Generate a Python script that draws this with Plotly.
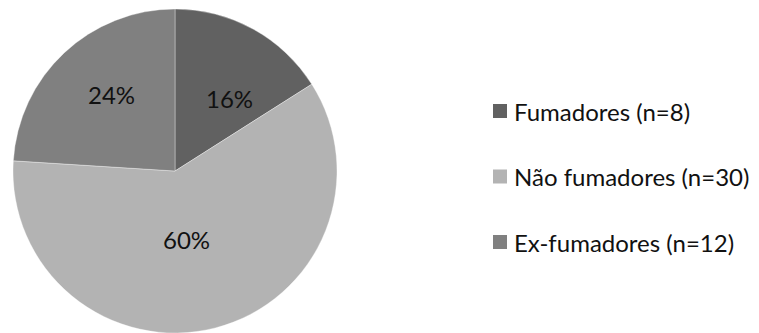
import math
import plotly.graph_objects as go

# Smoking status of respondents
categories = ["Fumadores (n=8)", "Não fumadores (n=30)", "Ex-fumadores (n=12)"]
counts = [8, 30, 12]
colors = ["#616161", "#b3b3b3", "#808080"]

FONT = "Lato, Calibri, Carlito, sans-serif"
W, H = 759, 333

# pie geometry in pixels (pie sits on the bottom edge)
R = 162
CX, CY = 175, H - R
# per-slice label placement: (angle shift in degrees, radius fraction)
label_place = [(8.0, 0.56), (5.0, 0.43), (3.5, 0.61)]

fig = go.Figure(
    go.Pie(
        labels=categories,
        values=counts,
        sort=False,
        direction="clockwise",
        rotation=0,
        marker=dict(colors=colors, line=dict(color="rgba(255,255,255,0.35)", width=1)),
        textinfo="none",
        showlegend=False,
        hoverinfo="label+value+percent",
        domain=dict(x=[(CX - R) / W, (CX + R) / W], y=[0, 2 * R / H]),
    )
)

# percentage labels at each slice's mid angle (clockwise from 12 o'clock)
total = sum(counts)
cum = 0
for v, (dshift, rf) in zip(counts, label_place):
    mid = (cum + v / 2) / total * 360 + dshift
    cum += v
    a = math.radians(mid)
    px = CX + rf * R * math.sin(a)
    py = CY - rf * R * math.cos(a)
    fig.add_annotation(
        xref="paper", yref="paper", x=px / W, y=(H - py) / H,
        xanchor="center", yanchor="middle", showarrow=False,
        text=f"{round(100 * v / total)}%",
        font=dict(family=FONT, size=24, color="#111111"),
    )

# Legend: square swatch + label per category, stacked vertically
legend_x = 493 / W
legend_top = (H - 111) / H
legend_step = 65.5 / H
for i, (name, col) in enumerate(zip(categories, colors)):
    yc = legend_top - i * legend_step
    fig.add_shape(
        type="rect", xref="paper", yref="paper",
        x0=legend_x, x1=legend_x + 14 / W,
        y0=yc - 7 / H, y1=yc + 7 / H,
        fillcolor=col, line=dict(width=0),
    )
    fig.add_annotation(
        xref="paper", yref="paper",
        x=legend_x + 19 / W, y=yc,
        xanchor="left", yanchor="middle",
        text=name, showarrow=False,
        font=dict(family=FONT, size=24, color="#111111"),
    )

fig.update_layout(
    width=W, height=H,
    margin=dict(l=0, r=0, t=0, b=0),
    paper_bgcolor="white",
    plot_bgcolor="white",
)

fig.write_html("out.html")
